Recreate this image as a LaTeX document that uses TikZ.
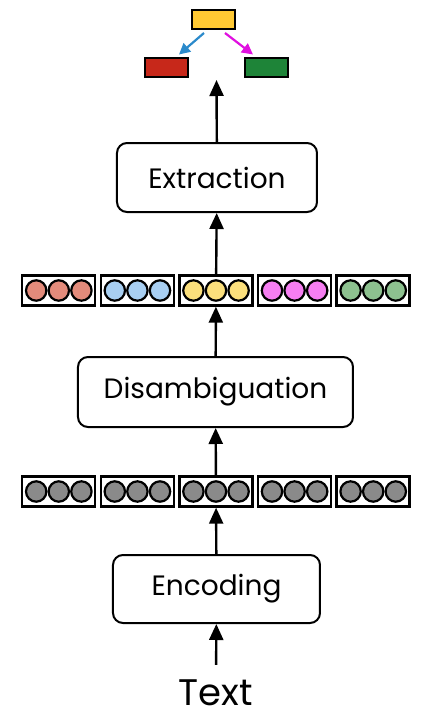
\documentclass[tikz,border=0pt]{standalone}
\usepackage{fontspec}
\setmainfont{Poppins}
\usetikzlibrary{arrows.meta,positioning}

\definecolor{salmon}{HTML}{E38B7B}
\definecolor{skyblue}{HTML}{A8CFF2}
\definecolor{sunny}{HTML}{FBDF7C}
\definecolor{pinkish}{HTML}{F67EF2}
\definecolor{sage}{HTML}{8DC18F}
\definecolor{greyish}{HTML}{8A8A8A}
\definecolor{tagYellow}{HTML}{FFC933}
\definecolor{tagRed}{HTML}{C7281A}
\definecolor{tagGreen}{HTML}{1E8438}
\definecolor{linkBlue}{HTML}{2B8ACB}
\definecolor{linkPink}{HTML}{E010E0}

\begin{document}
\begin{tikzpicture}[x=0.5pt,y=0.5pt,
				stage/.style={draw,line width=1pt,rounded corners=5pt,fill=white,inner sep=0pt,font=\fontsize{14}{16}\selectfont},
				cell/.style={draw,line width=1.2pt,fill=white,minimum width=36.5pt,minimum height=15pt,inner sep=0pt},
				dot/.style={draw,line width=1.1pt,circle,minimum size=10.2pt,inner sep=0pt},
				tag/.style={draw,line width=1pt,minimum width=21.5pt,minimum height=9.5pt,inner sep=0pt},
				flow/.style={line width=1.2pt,-{Triangle[length=8pt,width=7pt]}},
				link/.style={line width=1.1pt,-{Triangle[length=5.5pt,width=5.5pt]}}]
			\useasboundingbox (0,0) rectangle (420,720);
			% input and stages
			\node [anchor=base,inner sep=0pt,font=\fontsize{18.5}{20}\selectfont] (text) at (216,15) {Text};
			\node [stage,minimum width=103.5pt,minimum height=34pt] (encode) at (216.5,131) {Encoding};
			\node [stage,minimum width=137.5pt,minimum height=35pt] (disamb) at (215.5,328) {Disambiguation};
			\node [stage,minimum width=100pt,minimum height=34.5pt] (extract) at (217,542.5) {Extraction};
			% token vectors
			\foreach \i in {1,...,5} {
				\node [cell] (g\i) at ({216+(\i-3)*78.6},228.5) {};
				\foreach \j in {-1,0,1}
					\node [dot,fill=greyish] at ([xshift=\j*11.3pt]g\i.center) {};
			}
			\foreach \col [count=\i] in {salmon,skyblue,sunny,pinkish,sage} {
				\node [cell] (c\i) at ({216+(\i-3)*78.6},429.5) {};
				\foreach \j in {-1,0,1}
					\node [dot,fill=\col] at ([xshift=\j*11.3pt]c\i.center) {};
			}
			% extracted structure
			\node [tag,fill=tagYellow] (head) at (213.5,700.5) {};
			\node [tag,fill=tagRed] (left) at (166.5,653) {};
			\node [tag,fill=tagGreen] (right) at (266.5,653) {};
			\coordinate (top) at (216.5,640);
			% connectors
			\draw [flow,shorten <=7pt] (text) -- (encode);
			\draw [flow] (encode) -- (g3);
			\draw [flow] (g3) -- (disamb);
			\draw [flow] (disamb) -- (c3);
			\draw [flow] (c3) -- (extract);
			\draw [flow] (extract) -- (top);
			\draw [link,linkBlue] ([xshift=-4.75pt,yshift=-1.5pt]head.south) -- ([xshift=6.25pt,yshift=1pt]left.north);
			\draw [link,linkPink] ([xshift=5.75pt,yshift=-1.5pt]head.south) -- ([xshift=-6.75pt,yshift=1pt]right.north);
		\end{tikzpicture}
\end{document}
